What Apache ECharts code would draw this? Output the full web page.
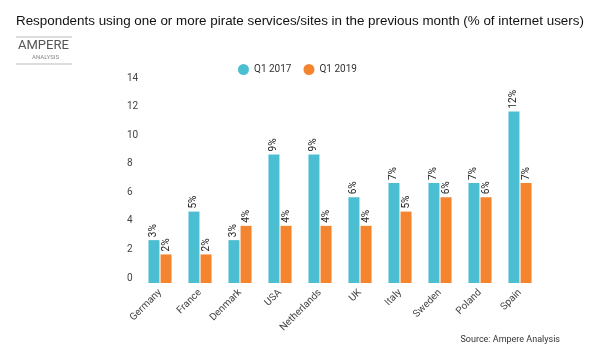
<!DOCTYPE html>
<html lang="en">
<head>
    <meta charset="UTF-8">
    <title>Piracy</title>
    <style>
        html, body { margin: 0; padding: 0; background: #fff; }
    </style>
</head>
<body>
<div id="main" style="width:600px;height:352px;"></div>
<script src="https://cdn.jsdelivr.net/npm/echarts@6/dist/echarts.min.js"></script>
<script>
    var countries = ['Germany', 'France', 'Denmark', 'USA', 'Netherlands', 'UK', 'Italy', 'Sweden', 'Poland', 'Spain'];
    var q12017 = [3, 5, 3, 9, 9, 6, 7, 7, 7, 12];
    var q12019 = [2, 2, 4, 4, 4, 4, 5, 6, 6, 7];
    var yTicks = [0, 2, 4, 6, 8, 10, 12, 14];
    var color = ['#4bbfd1', '#f5842f'];

    var myChart = echarts.init(document.getElementById('main'));

    var barLabel = {
        show: true,
        position: 'top',
        rotate: 90,
        align: 'left',
        verticalAlign: 'middle',
        distance: 3,
        fontSize: 10,
        fontFamily: 'Roboto',
        color: '#222',
        formatter: '{c}%'
    };

    var option = {
        backgroundColor: '#fff',
        animation: false,
        title: {
            text: 'Respondents using one or more pirate services/sites in the previous month (% of internet users)',
            left: 11,
            top: 10,
            textStyle: {
                fontFamily: 'Liberation Sans',
                fontSize: 13.4,
                fontWeight: 'normal',
                color: '#111'
            }
        },
        legend: {
            top: 59,
            left: 233,
            itemWidth: 11,
            itemHeight: 11,
            itemGap: 12,
            icon: 'circle',
            textStyle: {
                fontFamily: 'Roboto',
                fontSize: 10,
                color: '#333'
            },
            data: ['Q1 2017', 'Q1 2019']
        },
        grid: {
            left: 140,
            right: 60,
            top: 83,
            bottom: 69
        },
        xAxis: {
            type: 'category',
            data: countries,
            axisLine: { show: false },
            axisTick: { show: false },
            axisLabel: {
                rotate: 45,
                interval: 0,
                margin: 8,
                fontFamily: 'Roboto',
                fontSize: 10,
                color: '#444'
            }
        },
        yAxis: {
            type: 'value',
            min: 0,
            max: 14,
            interval: 2,
            axisLine: { show: false },
            axisTick: { show: false },
            splitLine: { show: false },
            axisLabel: {
                align: 'left',
                margin: 13,
                verticalAlign: 'bottom',
                fontFamily: 'Roboto',
                fontSize: 10,
                color: '#444',
                formatter: function (v) {
                    return yTicks.indexOf(v) >= 0 ? String(v) : '';
                }
            }
        },
        series: [
            {
                name: 'Q1 2017',
                type: 'bar',
                barWidth: 11,
                barGap: '10%',
                itemStyle: { color: color[0] },
                label: barLabel,
                data: q12017
            },
            {
                name: 'Q1 2019',
                type: 'bar',
                barWidth: 11,
                barGap: '10%',
                itemStyle: { color: color[1] },
                label: barLabel,
                data: q12019
            }
        ],
        graphic: [
            { type: 'line', shape: { x1: 16, y1: 37, x2: 72, y2: 37 }, style: { stroke: '#bbb', lineWidth: 1 } },
            { type: 'text', left: 18, top: 39, style: { text: 'AMPERE', fontFamily: 'Roboto', fontSize: 13, fill: '#555' } },
            { type: 'text', left: 32, top: 54, style: { text: 'ANALYSIS', fontFamily: 'Roboto', fontSize: 6, fill: '#888' } },
            { type: 'line', shape: { x1: 16, y1: 64, x2: 72, y2: 64 }, style: { stroke: '#bbb', lineWidth: 1 } },
            { type: 'text', right: 40, top: 335, style: { text: 'Source: Ampere Analysis', fontFamily: 'Roboto', fontSize: 9, fill: '#333' } }
        ]
    };
    myChart.setOption(option);
</script>
</body>
</html>
